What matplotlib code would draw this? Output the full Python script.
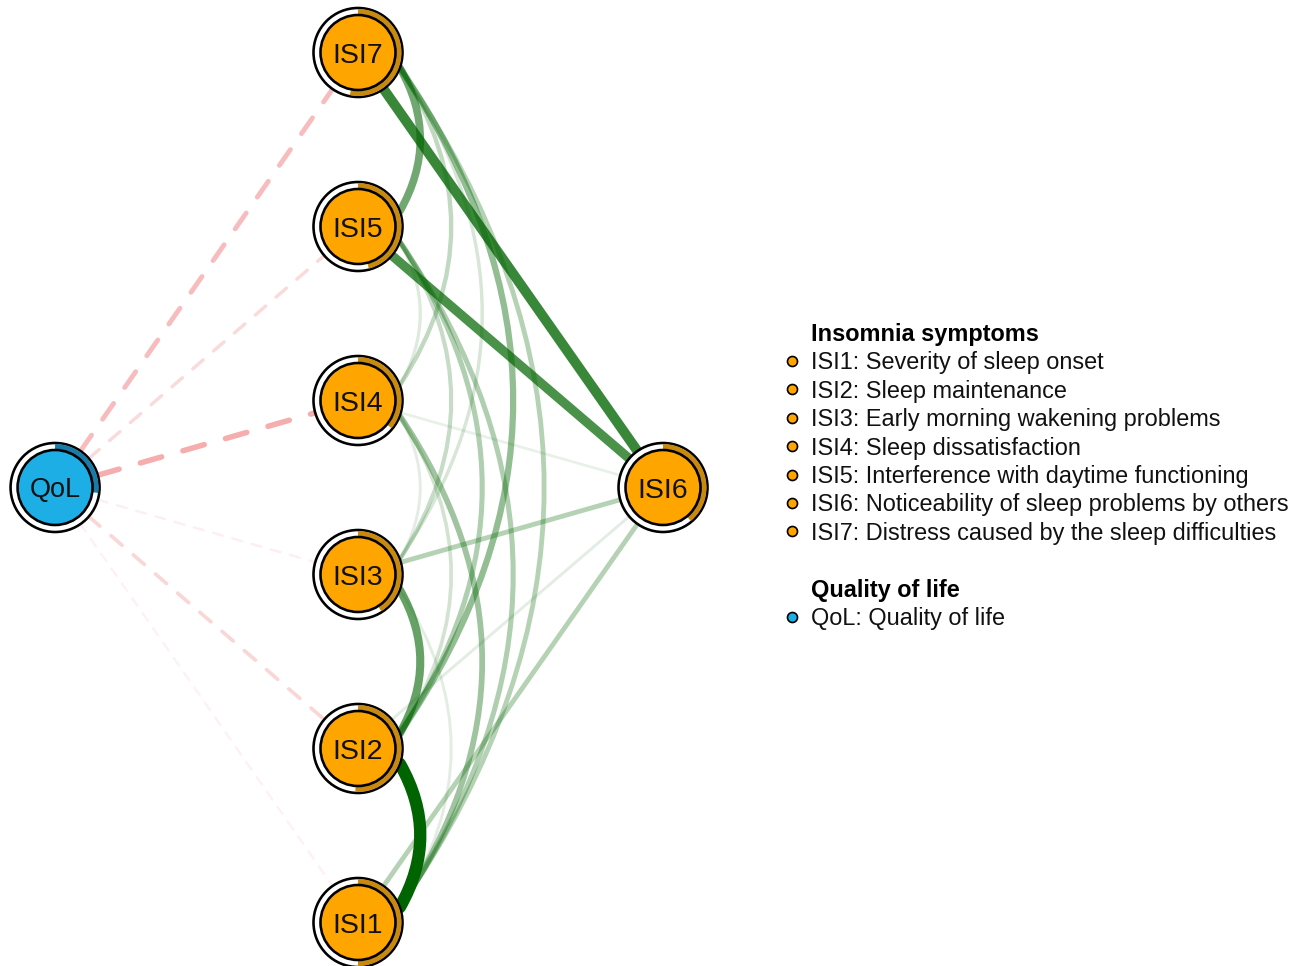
import numpy as np
import matplotlib
matplotlib.use("Agg")
import matplotlib.pyplot as plt
from matplotlib.path import Path
from matplotlib.patches import PathPatch, Circle, Wedge

plt.rcParams['font.family'] = ['Liberation Sans', 'DejaVu Sans']

# ---- nodes -------------------------------------------------------------
nodes = ["QoL", "ISI1", "ISI2", "ISI3", "ISI4", "ISI5", "ISI6", "ISI7"]
node_group = ["qol", "isi", "isi", "isi", "isi", "isi", "isi", "isi"]
# node predictability (fraction of the ring that is filled)
predictability = [0.27, 0.50, 0.51, 0.41, 0.36, 0.46, 0.39, 0.53]
# layout coordinates
layout_x = [-1.741, 0.0, 0.0, 0.0, 0.0, 0.0, 1.753, 0.0]
layout_y = [0.0, -2.5, -1.5, -0.5, 0.5, 1.5, 0.0, 2.5]

# ---- edges (regularised partial correlations) ---------------------------
edge_from = ["ISI1", "ISI6", "ISI5", "ISI5", "ISI2", "ISI2", "ISI1", "ISI1",
             "ISI1", "ISI2", "ISI3", "ISI1", "ISI2", "ISI4", "ISI3", "ISI4",
             "ISI3", "ISI4", "ISI3", "ISI2", "ISI1",
             "QoL", "QoL", "QoL", "QoL", "QoL", "QoL"]
edge_to = ["ISI2", "ISI7", "ISI6", "ISI7", "ISI3", "ISI7", "ISI4", "ISI5",
           "ISI7", "ISI5", "ISI6", "ISI6", "ISI6", "ISI6", "ISI5", "ISI7",
           "ISI7", "ISI5", "ISI4", "ISI4", "ISI3",
           "ISI4", "ISI7", "ISI5", "ISI2", "ISI3", "ISI1"]
edge_weight = [0.45, 0.35, 0.32, 0.25, 0.27, 0.19, 0.17, 0.14,
               0.13, 0.14, 0.13, 0.13, 0.05, 0.04, 0.10, 0.11,
               0.07, 0.06, 0.05, 0.08, 0.05,
               -0.16, -0.13, -0.07, -0.08, -0.03, -0.02]

# ---- legend -------------------------------------------------------------
legend_titles = ["Insomnia symptoms", "Quality of life"]
isi_descriptions = ["Severity of sleep onset", "Sleep maintenance",
                    "Early morning wakening problems", "Sleep dissatisfaction",
                    "Interference with daytime functioning",
                    "Noticeability of sleep problems by others",
                    "Distress caused by the sleep difficulties"]
qol_descriptions = ["Quality of life"]

# ---- style --------------------------------------------------------------
fill_col = {"isi": "#FFA500", "qol": "#1CAEE4"}
pie_col = {"isi": "#C8890F", "qol": "#1A7BA6"}
pos_col = "#006400"
neg_col = "#E41A1C"

PX = 1.0 / 174.0          # data units per pixel
PT_PER_PX = 0.72
R_OUT = 44.5 * PX
R_IN = 37.5 * PX
BORDER = 2.6              # border width in pixels

fig = plt.figure(figsize=(13.05, 9.66), dpi=100)
ax = fig.add_axes([0, 0, 1, 1])
ax.set_xlim(-358 * PX, (1305 - 358) * PX)
ax.set_ylim((487.5 - 966) * PX, 487.5 * PX)
ax.axis("off")

pos = {n: np.array([x, y]) for n, x, y in zip(nodes, layout_x, layout_y)}
wmax = max(abs(w) for w in edge_weight)


def edge_path(a, b):
    p0, p1 = pos[a], pos[b]
    d = p1 - p0
    L = np.hypot(*d)
    u = d / L
    if abs(p0[0] - p1[0]) < 1e-6:
        # nodes in the same column: bend the edge outward to the right
        n = np.array([u[1], -u[0]])
        if n[0] < 0:
            n = -n
        phi = np.deg2rad(70)
        e0 = p0 + R_OUT * (np.cos(phi) * u + np.sin(phi) * n)
        e1 = p1 + R_OUT * (-np.cos(phi) * u + np.sin(phi) * n)
        apex = 0.18 + 0.178 * L
        c = (p0 + p1) / 2 + n * (2 * apex - R_OUT * np.sin(phi))
        return Path([e0, c, e1], [Path.MOVETO, Path.CURVE3, Path.CURVE3])
    e0 = p0 + R_OUT * u
    e1 = p1 - R_OUT * u
    return Path([e0, e1], [Path.MOVETO, Path.LINETO])


order = np.argsort([abs(w) for w in edge_weight])
for i in order:
    w = edge_weight[i]
    r = abs(w) / wmax
    lw = (1.8 + 10.5 * r) * PT_PER_PX
    col = pos_col if w > 0 else neg_col
    ls = "-" if w > 0 else (0, (4, 4))
    patch = PathPatch(edge_path(edge_from[i], edge_to[i]), fill=False,
                      edgecolor=col, alpha=max(r, 0.06), linewidth=lw,
                      linestyle=ls, capstyle="round", zorder=1 + r)
    ax.add_patch(patch)

# ---- nodes with predictability rings ------------------------------------
for n, g, p in zip(nodes, node_group, predictability):
    c = pos[n]
    ax.add_patch(Circle(c, R_OUT, facecolor="white", edgecolor="black",
                        linewidth=BORDER * PT_PER_PX, zorder=10))
    ax.add_patch(Wedge(c, R_OUT - 1.0 * PX, 90 - 360 * p, 90,
                       width=R_OUT - R_IN - 1.0 * PX, facecolor=pie_col[g],
                       edgecolor="none", zorder=11))
    ax.add_patch(Circle(c, R_IN, facecolor=fill_col[g], edgecolor="black",
                        linewidth=BORDER * PT_PER_PX, zorder=12))
    fs = 19.5 if g == "qol" else 20.5
    cap_half = 0.716 * fs / PT_PER_PX / 2 * PX
    ax.text(c[0], c[1] - cap_half, n, fontsize=fs, ha="center",
            va="baseline", color="#111111", zorder=13)

# ---- legend -------------------------------------------------------------
mx = (792 - 358) * PX
tx = (811 - 358) * PX
row = 28.4 * PX
lfs = 16.9
y_title1 = (487.5 - 341) * PX
y_title2 = (487.5 - 596.7) * PX


def legend_block(y_title, title, labels, descs, group):
    ax.text(tx, y_title, title, fontsize=lfs, fontweight="bold",
            ha="left", va="baseline", color="black")
    for k, (lab, desc) in enumerate(zip(labels, descs)):
        yb = y_title - row * (k + 1)
        ax.scatter([mx], [yb + 8.3 * PX], s=52, color=fill_col[group],
                   edgecolor="black", linewidth=1.2, zorder=5)
        ax.text(tx, yb, f"{lab}: {desc}", fontsize=lfs, ha="left",
                va="baseline", color="#111111")


legend_block(y_title1, legend_titles[0], nodes[1:], isi_descriptions, "isi")
legend_block(y_title2, legend_titles[1], nodes[:1], qol_descriptions, "qol")

fig.savefig("out.png", dpi=100, facecolor="white")
